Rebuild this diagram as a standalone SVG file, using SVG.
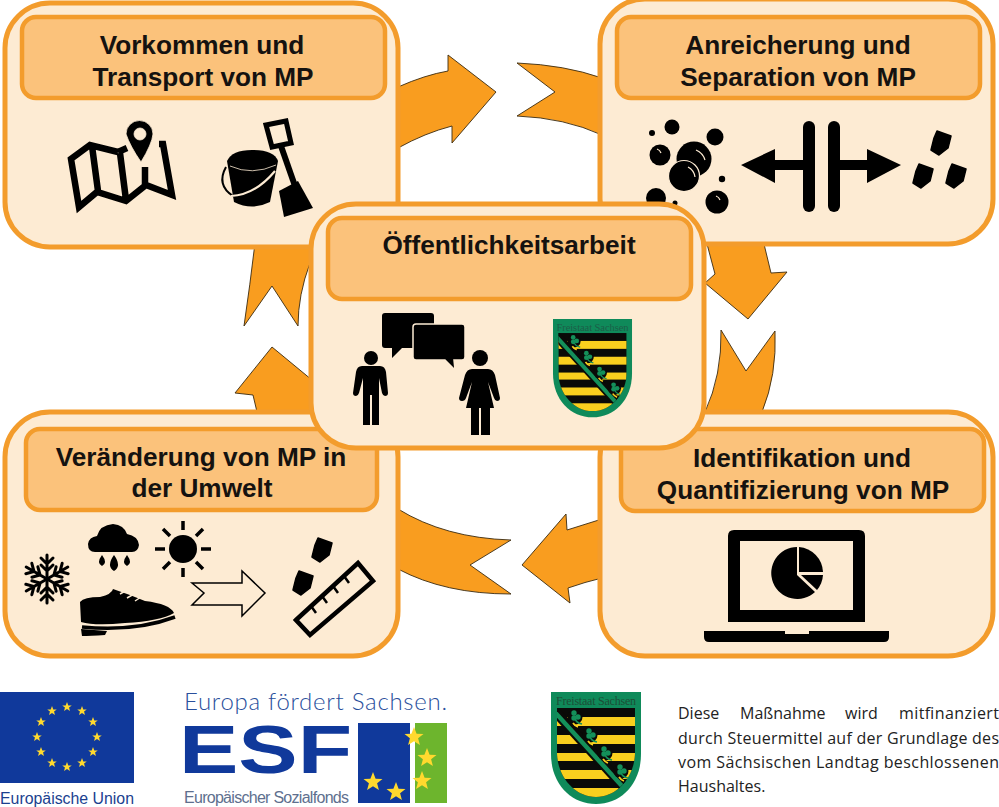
<svg xmlns="http://www.w3.org/2000/svg" xmlns:xlink="http://www.w3.org/1999/xlink" width="999" height="807" viewBox="0 0 999 807">
<style>
.box{fill:#FDEBD3;stroke:#F39C2C;stroke-width:5}
.hd{fill:#FBC27B;stroke:#F39C2C;stroke-width:4.5}
.arrow{fill:#F99D1F;stroke:#3A2A10;stroke-width:.9;stroke-linejoin:miter}
.title{font-family:"Liberation Sans",Arial,sans-serif;font-weight:700;font-size:26.2px;fill:#151210;text-anchor:middle}
.blk{fill:#000}
.ln{fill:none;stroke:#000;stroke-linecap:round}
.gr{font-family:"Open Sans","Noto Sans",sans-serif;fill:#222;font-size:16px}
</style>
<defs>
<polygon id="star" points="0,-10 2.6,-3.2 9.5,-3.1 4.1,1.2 5.9,8.1 0,4.2 -5.9,8.1 -4.1,1.2 -9.5,-3.1 -2.6,-3.2"/>
<polygon id="grain" fill="#000" stroke="#000" stroke-width="1.500" stroke-linejoin="round" points="-4,-12 10,-7 7,5 -2,12 -10,7 -7,-5"/>
<clipPath id="sc"><path d="M6 16H84V60C84 85 66 105 45 105C24 105 6 85 6 60Z"/></clipPath>
<g id="rue"><circle cx="-8" cy="-1" r="7.500" fill="#0A0A08"/><g fill="#14905A"><circle cx="-9" cy="-5" r="2.700"/><circle cx="-5" cy="-1" r="2.700"/><circle cx="-9" cy="0" r="2.700"/></g><path d="M-8 0Q-7 5 -1 6" fill="none" stroke="#14905A" stroke-width="1.500"/><path d="M-10 5Q-8 8 -5 9" fill="none" stroke="#F9CF1E" stroke-width="1.800"/></g>
<g id="shield">
<path d="M0 0H90V62C90 92 70 112 45 112C20 112 0 92 0 62Z" fill="#0F8A5A"/>
<g clip-path="url(#sc)">
<rect x="6" y="16" width="78" height="90" fill="#0A0A08"/>
<g fill="#F9CF1E"><rect x="6" y="25" width="78" height="9"/><rect x="6" y="43" width="78" height="9"/><rect x="6" y="61" width="78" height="8"/><rect x="6" y="78" width="78" height="9"/><rect x="6" y="96" width="78" height="9"/></g>
<path d="M1 16L80 103" stroke="#0A0A08" stroke-width="10" fill="none"/>
<path d="M1 17L80 104" stroke="#14905A" stroke-width="4.500" fill="none"/>
<use xlink:href="#rue" href="#rue" x="32" y="26"/>
<use xlink:href="#rue" href="#rue" x="47" y="44"/>
<use xlink:href="#rue" href="#rue" x="62" y="62"/>
<use xlink:href="#rue" href="#rue" x="78" y="80"/>
</g>
</g>
<g id="arm"><path class="ln" stroke-width="3" d="M0 0V-24M-6 -21L0 -15L6 -21M-6 -14L0 -8L6 -14"/></g>
</defs>
<rect width="999" height="807" fill="#fff"/>

<g id="connectors">
<path class="arrow" d="M398 87Q425 75 448 71L448 55L496 92L452 143L452 126Q425 133 398 148Z"/>
<path class="arrow" d="M517 63Q565 65 602 78V135Q565 118 517 116L555 92Z"/>
<path class="arrow" d="M764 244L771 273L787 272L748 319L705 283L715 274L707 244Z"/>
<path class="arrow" d="M721 330L746 371L775 331Q777 375 762 412H705Q722 375 721 330Z"/>
<path class="arrow" d="M602 519L567 530L566 514L522 565L570 603L568 588Q585 582 602 578Z"/>
<path class="arrow" d="M398 509Q445 538 511 540L470 565L511 594Q445 594 398 569Z"/>
<path class="arrow" d="M310 243H255Q250 285 244 326L272 286L298 326Q298 295 310 263Z"/>
<path class="arrow" d="M272 347L235 393L253 395L257 412H312V380Z"/>
</g>

<g id="node-vorkommen">
<rect class="box" x="5" y="3" width="393" height="244" rx="45"/>
<rect class="hd" x="22" y="17" width="363" height="81" rx="14"/>
<text class="title" x="202" y="54">Vorkommen und</text>
<text class="title" x="203" y="86">Transport von MP</text>
<path d="M118 152L90 145L71 159L79 207L97 192L126 201L146 185L172 195L163 144H159M145 167V185M92 146L98 191M120 153L126 200M118 152L127 148" fill="none" stroke="#000" stroke-width="6.500" stroke-linejoin="miter"/>
<path class="blk" d="M126 134A13.500 13.500 0 1 1 153 134Q152 144 141 162Q130 146 126 134ZM134 134A6 6 0 1 0 146 134A6 6 0 1 0 134 134Z" fill-rule="evenodd" stroke="#FDEBD3" stroke-width=".8"/>
<path class="blk" d="M227 161Q232 150 252 150Q274 150 278 161L270 202Q252 211 234 202Z"/>
<path d="M230 166Q252 176 276 165" fill="none" stroke="#FDEBD3" stroke-width=".8"/>
<path d="M226 167Q216 185 233 196" fill="none" stroke="#000" stroke-width="2"/>
<path d="M231 196Q255 195 275 171" fill="none" stroke="#FDEBD3" stroke-width="2.200"/>
<path d="M266 125L286 121L291 143L272 147Z" fill="none" stroke="#000" stroke-width="5"/>
<path d="M281 146L295 186" stroke="#000" stroke-width="6"/>
<path class="blk" d="M279 191L298 181L313 208L284 217Z"/>
</g>

<g id="node-anreicherung">
<rect class="box" x="600" y="-1" width="393" height="245" rx="45"/>
<rect class="hd" x="617" y="17" width="363" height="81" rx="14"/>
<text class="title" x="798" y="54">Anreicherung und</text>
<text class="title" x="798" y="86">Separation von MP</text>
<g class="blk"><circle cx="672" cy="127" r="7.500"/><circle cx="652" cy="133" r="3"/><circle cx="715" cy="137" r="8.500"/><circle cx="660" cy="155" r="10.500"/><circle cx="694" cy="159" r="17.500"/><circle cx="722" cy="179" r="3.200"/><circle cx="717" cy="202" r="11.500"/><circle cx="656" cy="198" r="10"/><circle cx="675" cy="203" r="2.500"/></g>
<circle cx="684" cy="176" r="15.500" fill="#000" stroke="#FDEBD3" stroke-width="1.200"/>
<g fill="none" stroke="#FDEBD3" stroke-width="1.200"><path d="M696 150Q703 153 705 160M688 167Q694 170 695 177M657 149Q660 150 661 153M716 196Q719 197 720 200"/></g>
<path class="blk" d="M741 165L775 149V160H804V170H775V183ZM901 165L867 149V160H838V170H867V183Z"/>
<rect class="blk" x="803" y="121" width="12" height="91" rx="6"/>
<rect class="blk" x="828" y="121" width="12" height="91" rx="6"/>
<use xlink:href="#grain" href="#grain" x="941" y="143"/>
<use xlink:href="#grain" href="#grain" x="923" y="176"/>
<use xlink:href="#grain" href="#grain" x="956" y="176"/>
</g>

<g id="node-veraenderung">
<rect class="box" x="5" y="412" width="393" height="244" rx="45"/>
<rect class="hd" x="26" y="429" width="351" height="81" rx="14"/>
<text class="title" x="201" y="466">Veränderung von MP in</text>
<text class="title" x="202" y="497">der Umwelt</text>
<g transform="translate(47 579)"><use xlink:href="#arm" href="#arm"/><use xlink:href="#arm" href="#arm" transform="rotate(60)"/><use xlink:href="#arm" href="#arm" transform="rotate(120)"/><use xlink:href="#arm" href="#arm" transform="rotate(180)"/><use xlink:href="#arm" href="#arm" transform="rotate(240)"/><use xlink:href="#arm" href="#arm" transform="rotate(300)"/></g>
<path class="blk" d="M95 552Q88 552 88 544Q89 537 97 536Q100 525 113 524Q124 525 127 534Q138 536 139 545Q138 552 132 552Z"/>
<path class="blk" d="M102 555Q108 563 102 566Q96 563 102 555ZM114 555Q122 566 114 571Q106 566 114 555ZM127 555Q133 563 127 566Q121 563 127 555Z"/>
<circle class="blk" cx="183" cy="549" r="14"/>
<g class="ln" stroke-width="3.500"><path stroke-linecap="butt" d="M183 521V530M183 568V577M155 549H165M201 549H211M163 529L170 536M196 562L203 569M203 529L196 536M170 562L163 569"/></g>
<path class="blk" d="M80 602Q84 597 100 597Q112 594 113 589Q128 594 145 601Q170 604 174 613Q160 621 125 623Q95 626 81 622Z"/>
<path d="M120 594L127 590M127 598L134 594M135 601L141 597" stroke="#FDEBD3" stroke-width="1.500"/>
<path d="M82 627Q135 632 175 617" fill="none" stroke="#000" stroke-width="3.500"/>
<path class="blk" d="M81 629L107 631L105 635Q90 636 82 636Z"/>
<path d="M192 583H242V571L265 593L242 616V605H192L204 593Z" fill="#FDEBD3" stroke="#000" stroke-width="1.500"/>
<use xlink:href="#grain" href="#grain" x="322" y="550"/>
<use xlink:href="#grain" href="#grain" x="303" y="583"/>
<path d="M296 620L358 563L373 581L310 635Z" fill="none" stroke="#000" stroke-width="4.500"/>
<path d="M311 606L316 613M322 596L327 603M333 586L338 593M344 576L349 583" stroke="#000" stroke-width="2.500"/>
</g>

<g id="node-identifikation">
<rect class="box" x="600" y="412" width="393" height="244" rx="45"/>
<rect class="hd" x="621" y="429" width="363" height="82" rx="14"/>
<text class="title" x="802" y="467">Identifikation und</text>
<text class="title" x="803" y="499">Quantifizierung von MP</text>
<path class="blk" d="M734 530H859Q865 530 865 536V622H728V536Q728 530 734 530ZM740 541V610H853V541Z" fill-rule="evenodd"/>
<path class="blk" d="M704 631H785V634H809V631H889V637Q889 642 884 642H709Q704 642 704 637Z"/>
<path class="blk" d="M797 547A26 26 0 1 0 815 592L797 575Z"/>
<path class="blk" d="M799 547A26 26 0 0 1 823 572H799Z"/>
<path class="blk" d="M801 575H823A26 26 0 0 1 817 590Z"/>
</g>

<g id="node-oeffentlichkeit">
<rect class="box" x="311" y="204" width="393" height="244" rx="45"/>
<rect class="hd" x="328" y="218" width="363" height="81" rx="14"/>
<text class="title" x="509" y="254">Öffentlichkeitsarbeit</text>
<path class="blk" d="M385 313H431Q434 313 434 316V345Q434 348 431 348H402L392 358V348H385Q382 348 382 345V316Q382 313 385 313Z"/>
<path class="blk" d="M416 324H462Q465 324 465 327V357Q465 360 462 360H454L455 370L445 360H416Q413 360 413 357V327Q413 324 416 324Z" stroke="#FDEBD3" stroke-width="1.500"/>
<circle class="blk" cx="371" cy="358" r="7"/>
<path class="blk" d="M362 366H380Q385 366 386 372L388 393Q388 396 385 396Q383 396 382 393L379 378V425H372V395H370V425H363V378L359 393Q358 396 356 396Q353 396 353 393L356 372Q357 366 362 366Z"/>
<circle class="blk" cx="480" cy="358" r="8"/>
<path class="blk" d="M472 369H488Q493 369 495 375L500 398Q500 401 497 401Q495 401 494 398L488 382L494 408H490V435H481V408H479V435H471V408H466L472 382L466 398Q465 401 462 401Q459 401 459 398L465 375Q467 369 472 369Z"/>
<g transform="translate(553 319) scale(.878)"><use xlink:href="#shield" href="#shield"/></g>
<text x="592.500" y="331" font-family="Liberation Serif,serif" font-size="10.500" fill="#1C5E48" text-anchor="middle" textLength="72">Freistaat Sachsen</text>
</g>

<g id="logo-eu">
<rect x="0" y="692" width="134" height="91" fill="#10399B"/>
<g fill="#FFD92E" transform="translate(67 737)">
<use xlink:href="#star" href="#star" transform="translate(0 -30) scale(.5)"/>
<use xlink:href="#star" href="#star" transform="translate(15 -26) scale(.5)"/>
<use xlink:href="#star" href="#star" transform="translate(26 -15) scale(.5)"/>
<use xlink:href="#star" href="#star" transform="translate(30 0) scale(.5)"/>
<use xlink:href="#star" href="#star" transform="translate(26 15) scale(.5)"/>
<use xlink:href="#star" href="#star" transform="translate(15 26) scale(.5)"/>
<use xlink:href="#star" href="#star" transform="translate(0 30) scale(.5)"/>
<use xlink:href="#star" href="#star" transform="translate(-15 26) scale(.5)"/>
<use xlink:href="#star" href="#star" transform="translate(-26 15) scale(.5)"/>
<use xlink:href="#star" href="#star" transform="translate(-30 0) scale(.5)"/>
<use xlink:href="#star" href="#star" transform="translate(-26 -15) scale(.5)"/>
<use xlink:href="#star" href="#star" transform="translate(-15 -26) scale(.5)"/>
</g>
<text x="0" y="804" font-family="Liberation Sans,Arial,sans-serif" font-size="16" fill="#1B3F8F" textLength="134" lengthAdjust="spacingAndGlyphs">Europäische Union</text>
</g>

<g id="logo-esf">
<text x="184" y="710" font-family="Lato,Open Sans,sans-serif" font-size="24" font-weight="300" textLength="263" fill="#2A4F9C">Europa fördert Sachsen.</text>
<text x="179" y="773" font-family="Liberation Sans,Arial,sans-serif" font-weight="700" font-size="68" fill="#10399B" textLength="173" lengthAdjust="spacingAndGlyphs">ESF</text>
<text x="184" y="803" font-family="Liberation Sans,Arial,sans-serif" font-size="16" fill="#5E6F8E" textLength="165">Europäischer Sozialfonds</text>
<rect x="358" y="723" width="52" height="80" fill="#10399B"/>
<rect x="415" y="723" width="32" height="80" fill="#6DB52D"/>
<g fill="#FFD92E">
<use xlink:href="#star" href="#star" x="414" y="737"/>
<use xlink:href="#star" href="#star" x="427" y="758"/>
<use xlink:href="#star" href="#star" x="422" y="781"/>
<use xlink:href="#star" href="#star" x="373" y="782"/>
<use xlink:href="#star" href="#star" x="396" y="792"/>
</g>
</g>

<g id="logo-sachsen">
<g transform="translate(551 692)"><use xlink:href="#shield" href="#shield"/></g>
<text x="596" y="705" font-family="Liberation Serif,serif" font-size="12" fill="#1D4F37" text-anchor="middle" textLength="80">Freistaat Sachsen</text>
<text class="gr" y="719"><tspan x="678">Diese</tspan><tspan x="740">Maßnahme</tspan><tspan x="845">wird</tspan><tspan x="899" textLength="100">mitfinanziert</tspan></text>
<text class="gr" x="678" y="744" textLength="321">durch Steuermittel auf der Grundlage des</text>
<text class="gr" x="678" y="768" textLength="321">vom Sächsischen Landtag beschlossenen</text>
<text class="gr" x="678" y="792">Haushaltes.</text>
</g>
</svg>
